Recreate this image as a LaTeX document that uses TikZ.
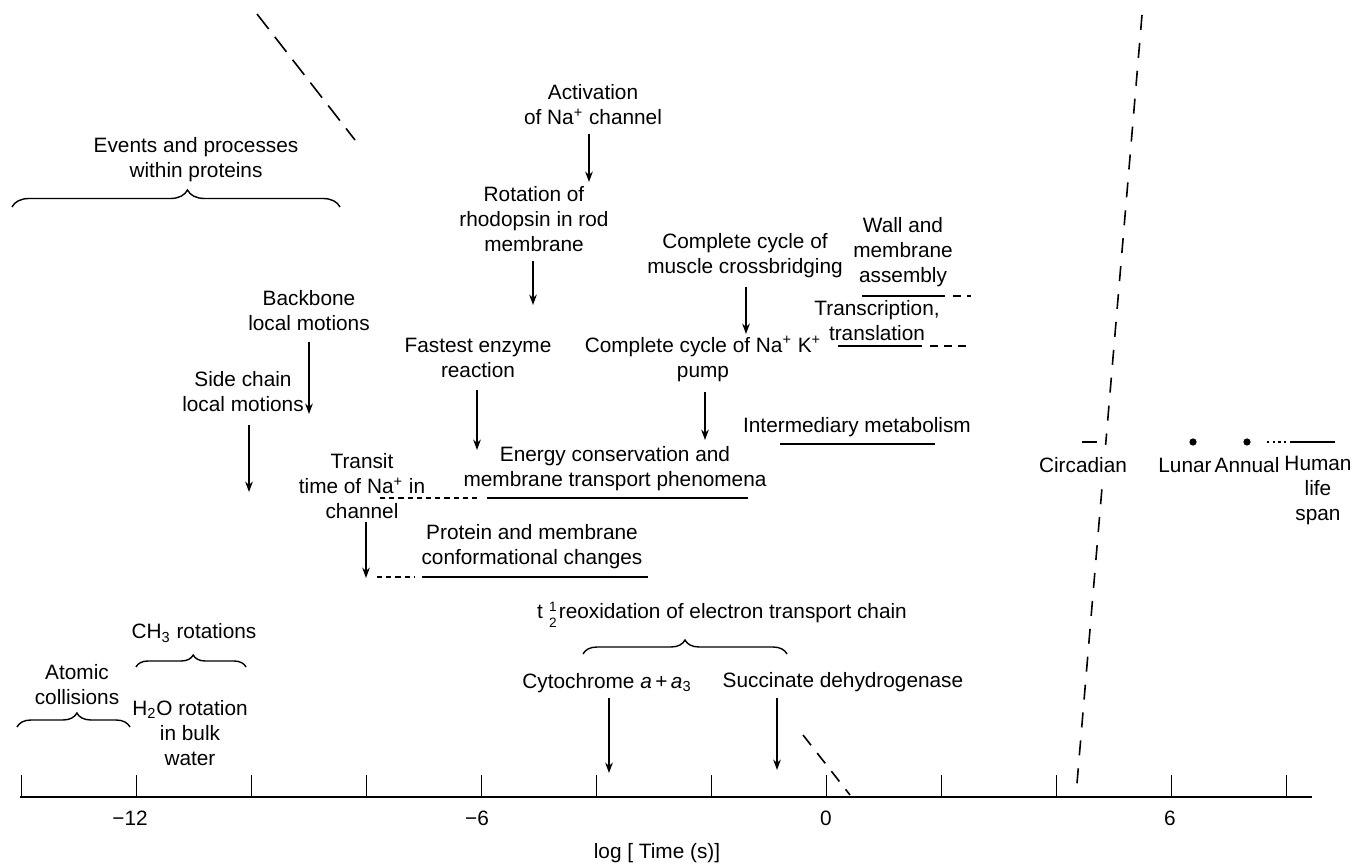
\documentclass[tikz,border=0pt]{standalone}
\usepackage{fontspec}
\setmainfont{Liberation Sans}
\usetikzlibrary{arrows.meta,decorations.pathreplacing,calc}
\newcommand{\halfstack}{\raisebox{-0.85ex}{\fontsize{6.8}{7.6}\selectfont\shortstack{1\\2}}}
\begin{document}
\begin{tikzpicture}[x=0.5pt,y=-0.5pt,
  lbl/.style={align=center,inner sep=0pt,font=\fontsize{10.4}{12.5}\selectfont},
  arr/.style={-{Stealth[length=5.2pt,width=3.8pt]},line width=0.7pt},
  rng/.style={line width=0.8pt},
  shortdash/.style={line width=0.8pt,dash pattern=on 4pt off 3pt},
  finedash/.style={line width=0.8pt,dash pattern=on 2.6pt off 2pt},
  brc/.style 2 args={decorate,decoration={brace,amplitude=#2,aspect=#1},line width=0.7pt},
  dotmark/.style={fill=black}]
\useasboundingbox (0,0) rectangle (1355,865);

% ---------- guide (break) lines ----------
\coordinate (g1a) at (257,14);
\coordinate (g1b) at (355,140);
\coordinate (g2a) at (803,735);
\coordinate (g2b) at (850,795);
\coordinate (g3a) at (1142,15);
\coordinate (g3b) at (1076,795);
\draw[line width=0.8pt,dash pattern=on 9.5pt off 5pt] (g1a) -- (g1b);
\draw[line width=0.8pt,dash pattern=on 6.5pt off 5pt] (g2a) -- (g2b);
\draw[line width=0.8pt,dash pattern=on 7.5pt off 6.5pt] (g3a) -- (g3b);

% ---------- axis ----------
\coordinate (axL) at (20,797);
\coordinate (axR) at (1312,797);
\draw[rng] (axL) -- (axR);
\foreach \L in {-14,-12,...,8}
  \draw[rng] ({826.5+57.5*\L},797) -- ({826.5+57.5*\L},775);
\node[lbl] (tm12) at (130,818) {−12};
\node[lbl] (tm6)  at (477,818) {−6};
\node[lbl] (t0)   at (826,818) {0};
\node[lbl] (t6)   at (1170,818) {6};
\node[lbl] (axlab) at (657,853) {log [ Time (s)]};

% ---------- protein events ----------
\node[lbl] (events) at (196,160) {Events and processes\\within proteins};
\coordinate (evL) at (12,207);
\coordinate (evR) at (340,207);
\draw[brc={0.535}{8.5pt}] (evL) -- (evR);

\node[lbl] (act) at (593,105) {Activation\\of Na\textsuperscript{+} channel};
\coordinate (actT) at (589,182);
\draw[arr] ($(actT |- act.south)+(0,8)$) -- (actT);

\node[lbl] (rot) at (534,219) {Rotation of\\rhodopsin in rod\\membrane};
\coordinate (rotT) at (533,305);
\draw[arr] ($(rotT |- rot.south)+(0,9)$) -- (rotT);

\node[lbl] (back) at (309,311) {Backbone\\local motions};
\coordinate (backT) at (309,414);
\draw[arr] ($(backT |- back.south)+(0,10)$) -- (backT);

\node[lbl] (side) at (243,392) {Side chain\\local motions};
\coordinate (sideT) at (249,492);
\draw[arr] ($(sideT |- side.south)+(0,12)$) -- (sideT);

\node[lbl] (fast) at (478,358) {Fastest enzyme\\reaction};
\coordinate (fastT) at (477,450);
\draw[arr] ($(fastT |- fast.south)+(0,12)$) -- (fastT);

\node[lbl] (musc) at (745,256) {Complete cycle of\\muscle crossbridging};
\coordinate (muscT) at (746,334);
\draw[arr] ($(muscT |- musc.south)+(0,8)$) -- (muscT);

\node[lbl] (nak) at (703,359) {Complete cycle of Na\textsuperscript{+} K\textsuperscript{+}\\pump};
\coordinate (nakT) at (705,440);
\draw[arr] ($(nakT |- nak.south)+(0,10)$) -- (nakT);

\node[lbl] (wall) at (903,252) {Wall and\\membrane\\assembly};
\coordinate (wallA) at (862,296);
\coordinate (wallB) at (945,296);
\coordinate (wallC) at (953,296);
\coordinate (wallD) at (971,296);
\draw[rng] (wallA) -- (wallB);
\draw[shortdash] (wallC) -- (wallD);

\node[lbl] (trans) at (877,321) {Transcription,\\translation};
\coordinate (trA) at (838,346);
\coordinate (trB) at (922,346);
\coordinate (trC) at (930,346);
\coordinate (trD) at (971,346);
\draw[rng] (trA) -- (trB);
\draw[shortdash] (trC) -- (trD);

\node[lbl] (inter) at (857,427) {Intermediary metabolism};
\coordinate (inA) at (780,444);
\coordinate (inB) at (935,444);
\draw[rng] (inA) -- (inB);

\node[lbl] (energy) at (615,469) {Energy conservation and\\membrane transport phenomena};
\coordinate (enA) at (380,498);
\coordinate (enB) at (481,498);
\coordinate (enC) at (487,498);
\coordinate (enD) at (748,498);
\draw[finedash] (enA) -- (enB);
\draw[rng] (enC) -- (enD);

\node[lbl] (transit) at (362,486) {Transit\\time of Na\textsuperscript{+} in\\channel};
\coordinate (transT) at (366,578);
\draw[arr] ($(transT |- transit.south)+(0,3)$) -- (transT);

\node[lbl] (prot) at (532,547) {Protein and membrane\\conformational changes};
\coordinate (prA) at (377,577);
\coordinate (prB) at (414,577);
\coordinate (prC) at (422,577);
\coordinate (prD) at (648,577);
\draw[finedash] (prA) -- (prB);
\draw[rng] (prC) -- (prD);

% ---------- electron transport ----------
\node[lbl] (thalf) at (722,615) {t\hspace{0.3em}\halfstack\hspace{0.1em}reoxidation of electron transport chain};
\coordinate (thL) at (583,654);
\coordinate (thR) at (787,654);
\draw[brc={0.5}{7pt}] (thL) -- (thR);

\node[lbl] (cyt) at (607,683) {Cytochrome \textit{a}\,+\,\textit{a}\textsubscript{3}};
\coordinate (cytT) at (609,773);
\draw[arr] ($(cytT |- cyt.south)+(0,5)$) -- (cytT);

\node[lbl] (succ) at (843,682) {Succinate dehydrogenase};
\coordinate (succT) at (777,770);
\draw[arr] ($(succT |- succ.south)+(0,6)$) -- (succT);

% ---------- fast molecular motions ----------
\node[lbl] (ch3) at (194,633) {CH\textsubscript{3} rotations};
\coordinate (chL) at (136,667);
\coordinate (chR) at (246,667);
\draw[brc={0.52}{6pt}] (chL) -- (chR);

\node[lbl] (atom) at (77,685) {Atomic\\collisions};
\coordinate (atL) at (17,727);
\coordinate (atR) at (130,727);
\draw[brc={0.53}{7pt}] (atL) -- (atR);

\node[lbl] (h2o) at (190,733) {H\textsubscript{2}O rotation\\in bulk\\water};

% ---------- long periods ----------
\node[lbl,fill=white,inner ysep=6pt] (circ) at (1083,465) {Circadian};
\coordinate (ciA) at (1082,442);
\coordinate (ciB) at (1097,442);
\draw[rng] (ciA) -- (ciB);

\node[lbl] (lunar) at (1185,465) {Lunar};
\coordinate (luD) at (1193,442);
\fill[dotmark] (luD) circle[radius=1.8pt];

\node[lbl] (annual) at (1247,465) {Annual};
\coordinate (anD) at (1247,442);
\fill[dotmark] (anD) circle[radius=1.8pt];

\node[lbl] (human) at (1318,491) {Human\\life\\span};
\coordinate (huA) at (1267,442);
\coordinate (huB) at (1287,442);
\coordinate (huC) at (1290,442);
\coordinate (huD) at (1335,442);
\draw[line width=0.8pt,dash pattern=on 1.2pt off 1.6pt] (huA) -- (huB);
\draw[rng] (huC) -- (huD);
\end{tikzpicture}
\end{document}
